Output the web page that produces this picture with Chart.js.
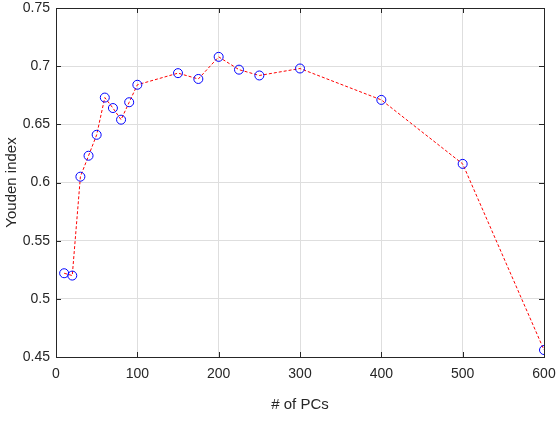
<!DOCTYPE html>
<html>
<head>
<meta charset="utf-8">
<script src="https://cdn.jsdelivr.net/npm/chart.js@4.4.1/dist/chart.umd.min.js"></script>
<style>
  html, body { margin: 0; padding: 0; background: #fff; }
  #wrap { width: 556px; height: 436px; }
</style>
</head>
<body>
<div id="wrap"><canvas id="youdenChart" width="556" height="436"></canvas></div>
<script>
// number of principal components
var numPCs = [10, 20, 30, 40, 50, 60, 70, 80, 90, 100, 150, 175, 200, 225, 250, 300, 400, 500, 600];
// youden index for each
var youden = [0.522, 0.520, 0.605, 0.623, 0.641, 0.673, 0.664, 0.654, 0.669, 0.684, 0.694, 0.689, 0.708, 0.697, 0.692, 0.698, 0.671, 0.616, 0.456];
var xTicks = [0, 100, 200, 300, 400, 500, 600];
var yTicks = [0.45, 0.5, 0.55, 0.6, 0.65, 0.7, 0.75];

var points = numPCs.map(function (x, i) { return { x: x, y: youden[i] }; });

// matlab style box with inward ticks
var boxPlugin = {
  id: 'boxPlugin',
  afterDraw: function (chart) {
    var c = chart.ctx, a = chart.chartArea;
    var xs = chart.scales.x, ys = chart.scales.y;
    c.save();
    c.strokeStyle = '#262626';
    c.lineWidth = 1;
    c.beginPath();
    xTicks.forEach(function (t) {
      var px = Math.round(xs.getPixelForValue(t)) + 0.5;
      c.moveTo(px, a.bottom); c.lineTo(px, a.bottom - 5);
      c.moveTo(px, a.top); c.lineTo(px, a.top + 5);
    });
    yTicks.forEach(function (t) {
      var py = Math.round(ys.getPixelForValue(t)) + 0.5;
      c.moveTo(a.left, py); c.lineTo(a.left + 5, py);
      c.moveTo(a.right, py); c.lineTo(a.right - 5, py);
    });
    c.stroke();
    c.strokeRect(Math.round(a.left) + 0.5, Math.round(a.top) + 0.5,
      Math.round(a.right - a.left), Math.round(a.bottom - a.top));
    c.restore();
  }
};

document.addEventListener('DOMContentLoaded', function () {
  var ctx = document.getElementById('youdenChart').getContext('2d');
  new Chart(ctx, {
    type: 'scatter',
    data: {
      datasets: [{
        data: points,
        showLine: true,
        borderColor: '#ff0000',
        borderWidth: 1,
        borderDash: [3, 2],
        pointStyle: 'circle',
        pointRadius: 4.5,
        pointBorderColor: '#0000ff',
        pointBackgroundColor: 'rgba(0,0,0,0)',
        pointBorderWidth: 1
      }]
    },
    options: {
      responsive: false,
      animation: false,
      layout: { padding: { top: 8, right: 12, left: 0, bottom: 22 } },
      plugins: { legend: { display: false }, tooltip: { enabled: false } },
      scales: {
        x: {
          type: 'linear',
          min: 0, max: 600,
          afterBuildTicks: function (s) { s.ticks = xTicks.map(function (v) { return { value: v }; }); },
          afterFit: function (s) { s.height = 57; s.paddingLeft = 0; s.paddingRight = 0; },
          grid: { color: '#dedede', drawTicks: false },
          border: { display: false },
          ticks: { padding: 9, color: '#262626', font: { family: 'Liberation Sans', size: 14 } },
          title: {
            display: true, text: '# of PCs', color: '#262626',
            font: { family: 'Liberation Sans', size: 15 },
            padding: { top: 8, bottom: 0 }
          }
        },
        y: {
          type: 'linear',
          min: 0.45, max: 0.75,
          afterBuildTicks: function (s) { s.ticks = yTicks.map(function (v) { return { value: v }; }); },
          afterFit: function (s) { s.width = 56; s.paddingTop = 0; s.paddingBottom = 0; },
          grid: { color: '#dedede', drawTicks: false },
          border: { display: false },
          ticks: {
            padding: 6, color: '#262626', font: { family: 'Liberation Sans', size: 14 },
            callback: function (v) { return String(parseFloat(v.toFixed(2))); }
          },
          title: {
            display: true, text: 'Youden index', color: '#262626',
            font: { family: 'Liberation Sans', size: 15 },
            padding: { top: 3, bottom: 0 }
          }
        }
      }
    },
    plugins: [boxPlugin]
  });
});
</script>
</body>
</html>
